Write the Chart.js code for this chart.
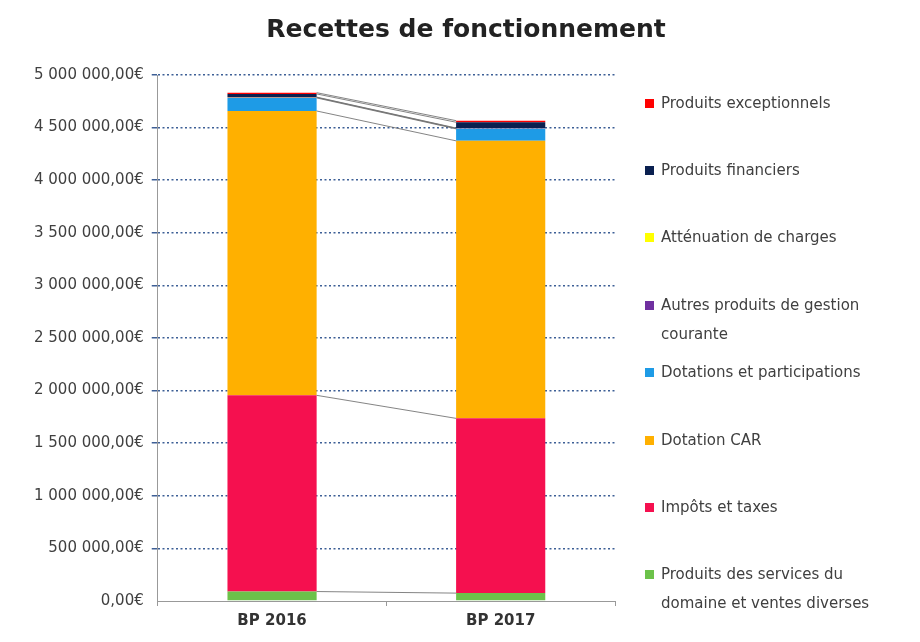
<!DOCTYPE html>
<html>
<head>
<meta charset="utf-8">
<script src="https://cdn.jsdelivr.net/npm/chart.js@4.4.0/dist/chart.umd.min.js"></script>
<style>
  html, body { margin: 0; padding: 0; background: #fff; }
  #wrap { position: relative; width: 920px; height: 642px; }
  #legend { position: absolute; left: 643px; top: 0; font: 15px "DejaVu Sans"; color: #404040; }
  .item { position: absolute; left: 0; white-space: nowrap; line-height: 29px; }
  .item .box { position: absolute; left: 2px; top: 10px; width: 9px; height: 9px; }
  .item .txt { margin-left: 18px; }
</style>
</head>
<body>
<div id="wrap">
  <canvas id="myChart" width="920" height="642"></canvas>
  <div id="legend"></div>
</div>
<script>
const ctx = document.getElementById('myChart');

const chartTitle = 'Recettes de fonctionnement';

// categories and y ticks
const categories = ['BP 2016', 'BP 2017'];
const yTickValues = [0, 500000, 1000000, 1500000, 2000000, 2500000, 3000000, 3500000, 4000000, 4500000, 5000000];

// series, bottom of the stack first
const seriesNames = [
  'Produits des services du\ndomaine et ventes diverses',
  'Impôts et taxes',
  'Dotation CAR',
  'Dotations et participations',
  'Autres produits de gestion\ncourante',
  'Atténuation de charges',
  'Produits financiers',
  'Produits exceptionnels'
];
const servicesValues = [90000, 75000];
const impotsValues = [1865000, 1661000];
const dotationCarValues = [2703000, 2638000];
const dotationsValues = [124000, 114000];
const autresValues = [5000, 5000];
const attenuationValues = [3000, 3000];
const financiersValues = [30000, 55000];
const exceptionnelsValues = [12000, 15000];

const seriesColors = ['#6cc24a', '#f5104f', '#ffb000', '#1e9be6', '#7030a0', '#ffff00', '#0a2050', '#ff0000'];

const allValues = [servicesValues, impotsValues, dotationCarValues, dotationsValues,
  autresValues, attenuationValues, financiersValues, exceptionnelsValues];

function euro(v) {
  let s = v.toFixed(2).split('.');
  return s[0].replace(/\B(?=(\d{3})+(?!\d))/g, ' ') + ',' + s[1] + '€';
}

// lines joining the top of each segment from one bar to the next
const seriesLines = {
  id: 'seriesLines',
  afterDatasetsDraw(chart) {
    const c = chart.ctx;
    c.save();
    c.strokeStyle = 'rgba(110,110,110,0.85)';
    c.lineWidth = 1;
    chart.data.datasets.forEach((ds, i) => {
      const meta = chart.getDatasetMeta(i);
      const a = meta.data[0], b = meta.data[1];
      c.beginPath();
      c.moveTo(a.x + a.width / 2, a.y);
      c.lineTo(b.x - b.width / 2, b.y);
      c.stroke();
    });
    c.restore();
  }
};

// title centred on the whole canvas, not only the plot
const pageTitle = {
  id: 'pageTitle',
  afterDraw(chart) {
    const c = chart.ctx;
    c.save();
    c.font = 'bold 25px "DejaVu Sans"';
    c.fillStyle = '#222';
    c.textAlign = 'center';
    c.textBaseline = 'middle';
    c.fillText(chartTitle, chart.width / 2 + 6, 30);
    c.restore();
  }
};

new Chart(ctx, {
  type: 'bar',
  data: {
    labels: categories,
    datasets: seriesNames.map((name, i) => ({
      label: name,
      data: allValues[i],
      backgroundColor: seriesColors[i],
      borderWidth: 0,
      barPercentage: 0.39,
      categoryPercentage: 1
    }))
  },
  plugins: [seriesLines, pageTitle],
  options: {
    responsive: false,
    animation: false,
    layout: { padding: { left: 26, right: 305, top: 75, bottom: 6 } },
    plugins: {
      legend: { display: false },
      tooltip: { enabled: false },
      title: { display: false }
    },
    scales: {
      x: {
        stacked: true,
        offset: true,
        grid: { display: true, drawOnChartArea: false, offset: true, tickLength: 5, color: '#999' },
        border: { display: true, color: '#999' },
        ticks: { color: '#333', font: { family: 'DejaVu Sans', size: 15, weight: 'bold' }, padding: 6 }
      },
      y: {
        stacked: true,
        min: 0,
        max: 5000000,
        afterBuildTicks: scale => { scale.ticks = yTickValues.map(v => ({ value: v })); },
        grid: {
          color: c => c.tick && c.tick.value === 0 ? 'rgba(0,0,0,0)' : '#3d5f96',
          lineWidth: 1.5,
          tickLength: 6
        },
        border: { display: true, color: '#999', dash: [2, 2.5] },
        ticks: {
          color: '#404040',
          font: { family: 'DejaVu Sans', size: 15 },
          padding: 8,
          callback: v => euro(v)
        }
      }
    }
  }
});

// legend, top of the stack first
const legend = document.getElementById('legend');
for (let k = seriesNames.length - 1, n = 0; k >= 0; k--, n++) {
  const item = document.createElement('div');
  item.className = 'item';
  item.style.top = (88.5 + n * 67.4) + 'px';
  const box = document.createElement('span');
  box.className = 'box';
  box.style.background = seriesColors[k];
  const txt = document.createElement('div');
  txt.className = 'txt';
  txt.innerHTML = seriesNames[k].replace('\n', '<br>');
  item.appendChild(box);
  item.appendChild(txt);
  legend.appendChild(item);
}
</script>
</body>
</html>
